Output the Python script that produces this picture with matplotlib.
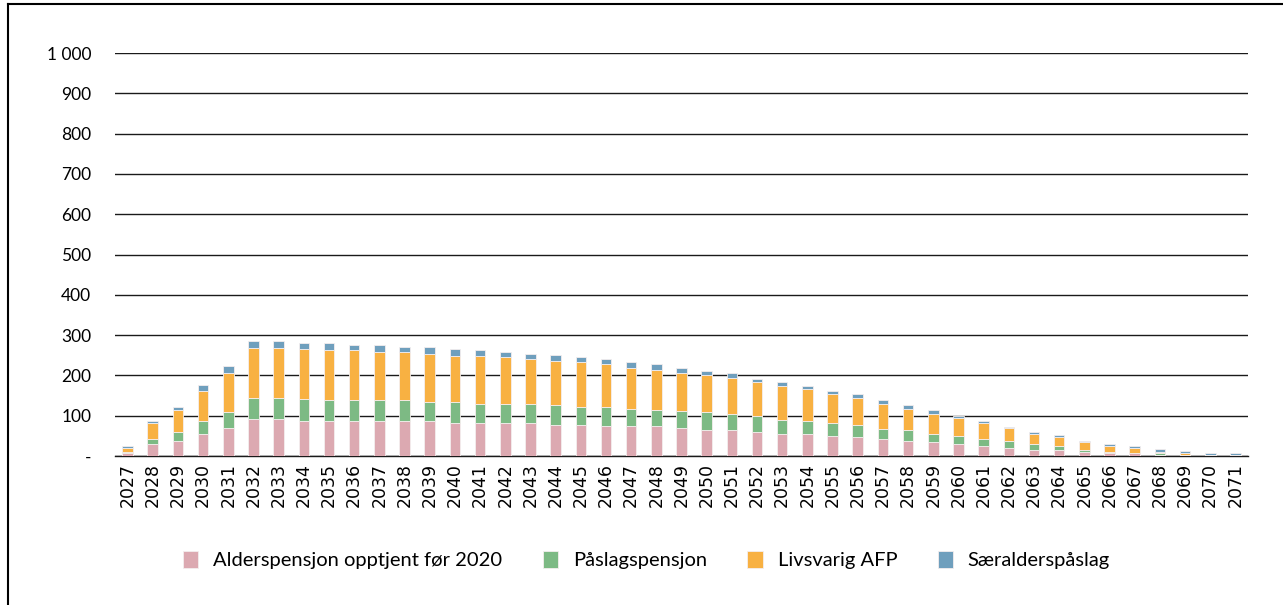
import numpy as np
import matplotlib.pyplot as plt
from matplotlib.lines import Line2D

# Data
years = list(range(2027, 2072))
alderspensjon = [6.5, 29, 38, 55.5, 69, 91, 91, 86.5, 86.5, 86.5, 86.5, 86.5, 86.5, 82, 82,
                 82, 82, 77.5, 77.5, 73.5, 73.5, 73.5, 69, 65, 65, 60, 55.5, 55.5, 50.5, 46.5,
                 42, 37.5, 33.5, 29, 24.5, 21, 16, 16, 11, 7, 6.5, 2.5, 1, 0.5, 0.5]
paslag = [4, 13, 22, 32, 39, 52, 52, 56, 52, 52, 52, 52, 48, 52, 48,
          48, 48, 48, 44, 48, 44, 40, 43, 43, 38, 39, 35, 31, 31, 30,
          26, 27, 21, 21, 17, 16, 13, 8, 4, 3, 0.5, 4, 1.5, 2, 0.5]
afp = [10.5, 40, 53, 74, 97, 125, 125, 124, 124, 124, 119, 119, 119, 115, 119,
       115, 110, 111, 111, 106, 101, 100, 93, 93, 90, 84, 84, 79, 72, 68,
       62, 53, 50, 44, 40, 32, 26, 22, 19, 15, 14, 4, 6, 0, 2]
saeralder = [3.5, 5, 9, 14, 18, 17, 17, 13, 17, 13, 18, 14, 18, 17, 13,
             13, 13, 13, 12, 13, 14, 14, 13, 9, 12, 9, 9, 9, 8, 9,
             9, 9, 9, 5, 6, 4, 5, 5, 4, 4, 3, 6, 3, 5, 5]

labels = ['Alderspensjon opptjent før 2020', 'Påslagspensjon', 'Livsvarig AFP', 'Særalderspåslag']
colors = ['#dca9b1', '#7dba84', '#f8b142', '#6f9fbd']
yticks = [0, 100, 200, 300, 400, 500, 600, 700, 800, 900, 1000]
ytick_labels = ['-', '100', '200', '300', '400', '500', '600', '700', '800', '900', '1 000']

fig = plt.figure(figsize=(12.83, 6.05), dpi=100)
ax = fig.add_axes([115 / 1283, 149 / 605, 1133 / 1283, 403 / 605])

x = np.arange(len(years))
bottom = np.zeros(len(years))
for vals, lab, col in zip([alderspensjon, paslag, afp, saeralder], labels, colors):
    ax.bar(x, vals, width=0.42, bottom=bottom, color=col, label=lab,
           edgecolor='#f4eeee', linewidth=0.6, zorder=3)
    bottom += np.array(vals)

ax.set_xlim(-0.5, len(years) - 0.5)
ax.set_ylim(0, 1000)
ax.set_yticks(yticks)
ax.set_yticklabels(ytick_labels, fontsize=12.5, family='Lato')
ax.set_xticks(x)
ax.set_xticklabels([str(y) for y in years], rotation=90, fontsize=12.5)
ax.tick_params(axis='y', length=0, pad=17)
ax.tick_params(axis='x', length=0, pad=5)
ax.yaxis.grid(True, color='#1a1a1a', linewidth=1.0, zorder=1)
for s in ['top', 'right', 'left']:
    ax.spines[s].set_visible(False)
ax.spines['bottom'].set_color('#1a1a1a')
ax.spines['bottom'].set_linewidth(1.0)

leg = fig.legend(loc='center', bbox_to_anchor=(0.504, 0.074), ncol=4, frameon=False,
                 handlelength=0.75, handleheight=0.9, handletextpad=0.75,
                 columnspacing=2.0, prop={'family': 'Lato', 'size': 14.5})

# outer frame (left and top edges)
fig.add_artist(Line2D([8 / 1283, 8 / 1283], [0, 1 - 4 / 605], color='black', linewidth=1.5))
fig.add_artist(Line2D([8 / 1283, 1], [1 - 4 / 605, 1 - 4 / 605], color='black', linewidth=1.5))

fig.savefig('out.png', dpi=100)
